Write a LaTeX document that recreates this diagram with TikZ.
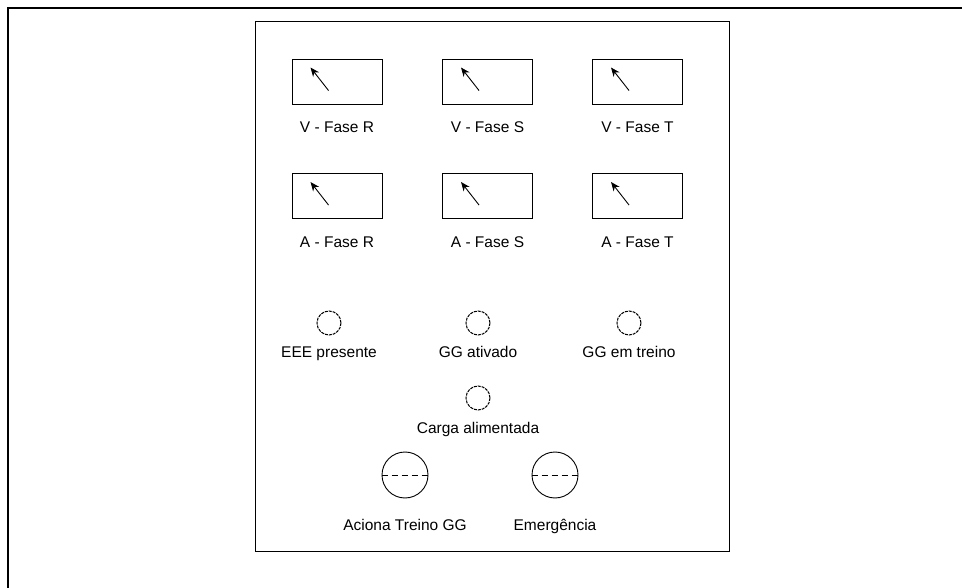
\documentclass[tikz,border=0pt]{standalone}
\usepackage{fontspec}
\setmainfont{Liberation Sans}
\usetikzlibrary{arrows.meta,calc}
\begin{document}
\begin{tikzpicture}[x=1pt,y=-1pt,
  meter/.style={draw,line width=0.9pt,minimum width=90pt,minimum height=45pt,inner sep=0pt},
  lbl/.style={font=\fontsize{15.5}{18}\selectfont,inner sep=0pt,anchor=base},
  lamp/.style={draw,circle,line width=1pt,minimum size=24pt,inner sep=0pt,dash pattern=on 3pt off 1pt},
  btn/.style={draw,circle,line width=0.9pt,minimum size=46pt,inner sep=0pt},
  needle/.style={line width=0.9pt,-{Stealth[length=9pt,width=7.5pt]}}
]
\useasboundingbox (0,0) rectangle (962,588);
% outer frame
\draw[line width=1.4pt] (962,8) -- (8,8) -- (8,588);
% panel
\node[draw,line width=0.9pt,minimum width=474pt,minimum height=530pt,inner sep=0pt] (panel) at (492,286) {};
% meters
\foreach \n/\x/\y/\t in {vr/337/81.5/V - Fase R, vs/487.5/81.5/V - Fase S, vt/637.5/81.5/V - Fase T,
                        ar/337/196/A - Fase R, as/487.5/196/A - Fase S, at/637.5/196/A - Fase T}{
  \node[meter] (\n) at (\x,\y) {};
  \node[lbl] (\n l) at (\x,\y+51.5) {\t};
  \draw[needle] ($(\n.north west)+(37,32)$) -- ($(\n.north west)+(19,9)$);
}
% lamps
\node[lamp] (eee) at (329,323) {};
\node[lbl] (eeel) at (329,358) {EEE presente};
\node[lamp] (gga) at (478,323) {};
\node[lbl] (ggal) at (478,358) {GG ativado};
\node[lamp] (ggt) at (629,323) {};
\node[lbl] (ggtl) at (629,358) {GG em treino};
\node[lamp] (carga) at (478,398) {};
\node[lbl] (cargal) at (478,433) {Carga alimentada};
% buttons
\node[btn] (acion) at (405,475) {};
\draw[line width=0.6pt,dash pattern=on 6pt off 4pt] (acion.west) -- (acion.east);
\node[lbl] (acionl) at (405,530) {Aciona Treino GG};
\node[btn] (emerg) at (555,475) {};
\draw[line width=0.6pt,dash pattern=on 6pt off 4pt] (emerg.west) -- (emerg.east);
\node[lbl] (emergl) at (555,530) {Emergência};
\end{tikzpicture}
\end{document}
